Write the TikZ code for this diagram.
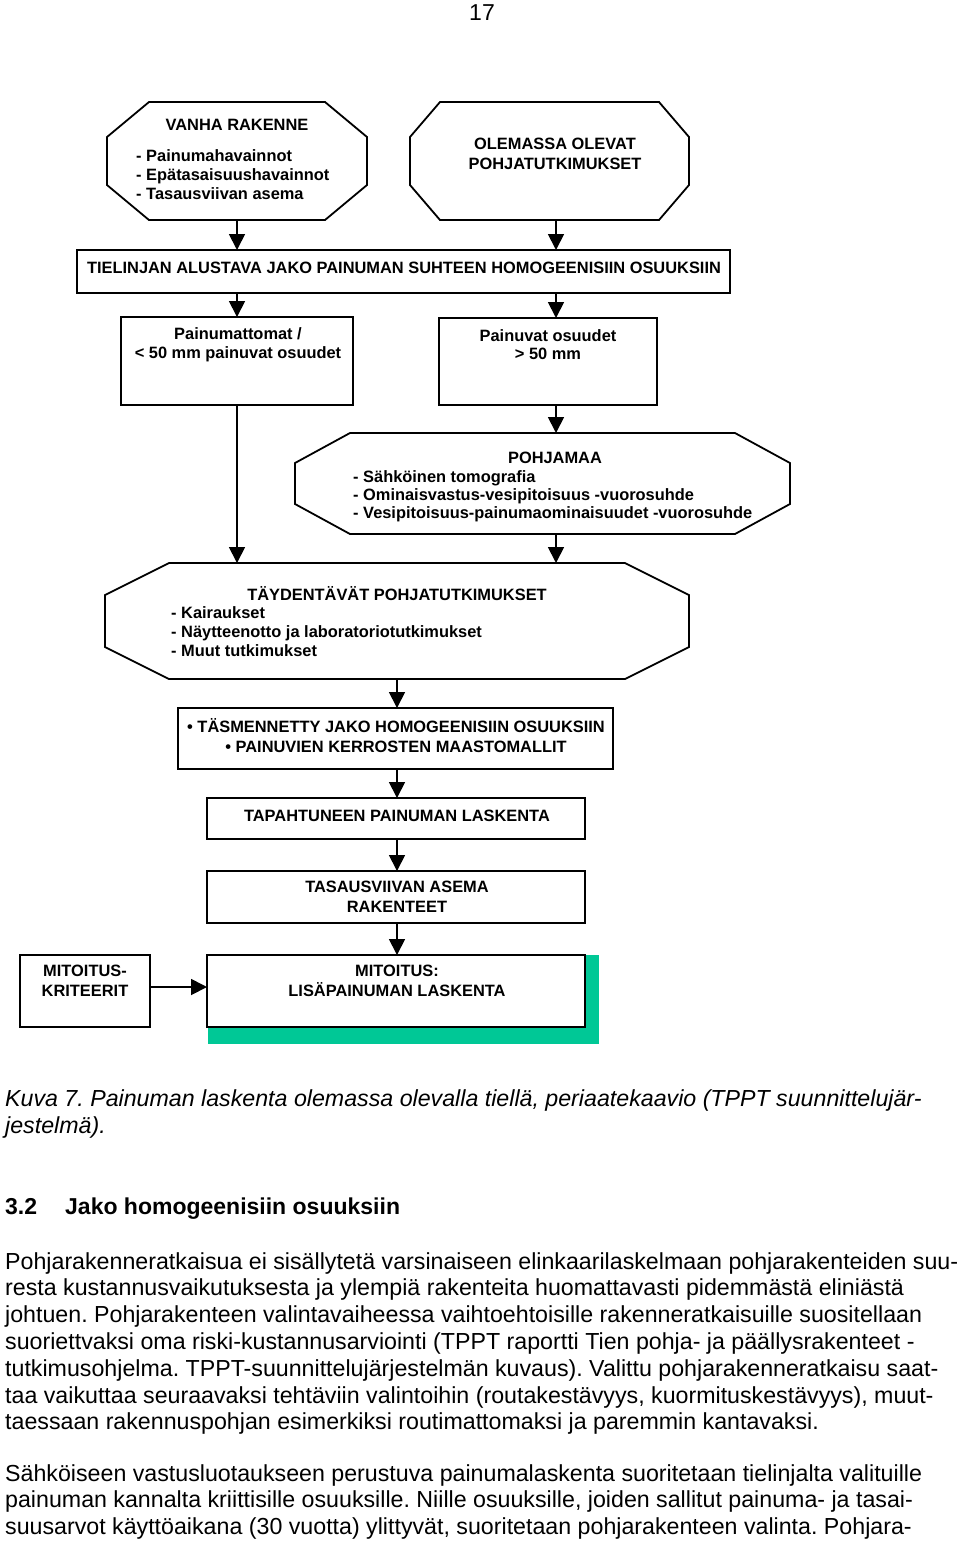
\documentclass[tikz,border=0pt]{standalone}
\usepackage{fontspec}
\setmainfont{Liberation Sans}
\usetikzlibrary{arrows.meta,calc}
\definecolor{shgreen}{RGB}{0,200,150}
\newcommand\drawocta[3]{%
  \draw[frame] ([xshift=#2pt]#1.north west) -- ([xshift=-#2pt]#1.north east)
    -- ([yshift=-#3pt]#1.north east) -- ([yshift=#3pt]#1.south east)
    -- ([xshift=-#2pt]#1.south east) -- ([xshift=#2pt]#1.south west)
    -- ([yshift=#3pt]#1.south west) -- ([yshift=-#3pt]#1.north west) -- cycle;}
\frenchspacing
\begin{document}
\frenchspacing
\begin{tikzpicture}[x=1pt,y=-1pt,
  frame/.style={draw=black,line width=1.8pt,fill=white},
  ghost/.style={draw=none,inner sep=0pt,outer sep=0pt},
  rbox/.style={draw=black,line width=1.8pt,fill=white,inner sep=0pt,outer sep=0pt},
  arr/.style={line width=1.8pt,-{Triangle[length=16pt,width=16pt]}},
  dt/.style={font=\fontsize{16.4}{19}\selectfont\bfseries,inner sep=0pt,anchor=base},
  dl/.style={font=\fontsize{16.4}{19}\selectfont\bfseries,inner sep=0pt,anchor=base west},
  bt/.style={font=\fontsize{23.2}{27}\selectfont,inner sep=0pt,anchor=base west},
  ct/.style={font=\fontsize{23.2}{27}\selectfont\itshape,inner sep=0pt,anchor=base west},
]
\useasboundingbox (0,0) rectangle (960,1543);

% page number
\node[font=\fontsize{23}{27}\selectfont,inner sep=0pt,anchor=base] (pagenum) at (482,20) {17};

% column coordinates
\coordinate (colL) at (237,0);
\coordinate (colR) at (556,0);
\coordinate (colC) at (397,0);
\coordinate (rowK) at (0,987);

% octagon frames
\node[ghost,minimum width=260pt,minimum height=118pt] (vanha) at (237,161) {};
\drawocta{vanha}{42}{35}
\node[ghost,minimum width=279pt,minimum height=118pt] (olemassa) at (549.5,161) {};
\drawocta{olemassa}{30}{35}
\node[ghost,minimum width=495pt,minimum height=101pt] (pohjamaa) at (542.5,483.5) {};
\drawocta{pohjamaa}{55}{30}
\node[ghost,minimum width=584pt,minimum height=116pt] (taydent) at (397,621) {};
\drawocta{taydent}{64}{32}

% rectangles
\node[rbox,minimum width=653pt,minimum height=43pt] (tielinjan) at (403.5,271.5) {};
\node[rbox,minimum width=232pt,minimum height=88pt] (painumatt) at (237,361) {};
\node[rbox,minimum width=218pt,minimum height=87pt] (painuvat) at (548,361.5) {};
\node[rbox,minimum width=435pt,minimum height=61pt] (tasmenn) at (395.5,738.5) {};
\node[rbox,minimum width=378pt,minimum height=41pt] (tapaht) at (396,818.5) {};
\node[rbox,minimum width=378pt,minimum height=52pt] (tasaus) at (396,897) {};
\node[fill=shgreen,draw=none,inner sep=0pt,outer sep=0pt,minimum width=391pt,minimum height=89pt] (shadow) at (403.5,999.5) {};
\node[rbox,minimum width=378pt,minimum height=72pt] (mitoitus) at (396,991) {};
\node[rbox,minimum width=130pt,minimum height=72pt] (kriteerit) at (85,991) {};

% texts in diagram
\node[dt] (tv1) at (237,130) {VANHA RAKENNE};
\node[dl] (tv2) at (136,161) {- Painumahavainnot};
\node[dl] (tv3) at (136,180) {- Epätasaisuushavainnot};
\node[dl] (tv4) at (136,199) {- Tasausviivan asema};
\node[dt] (to1) at (555,149) {OLEMASSA OLEVAT};
\node[dt] (to2) at (555,169) {POHJATUTKIMUKSET};
\node[dt] (tt1) at (404,273) {TIELINJAN ALUSTAVA JAKO PAINUMAN SUHTEEN HOMOGEENISIIN OSUUKSIIN};
\node[dt] (tpm1) at (238,339) {Painumattomat /};
\node[dt] (tpm2) at (238,358) {< 50 mm painuvat osuudet};
\node[dt] (tpv1) at (548,341) {Painuvat osuudet};
\node[dt] (tpv2) at (548,359) {> 50 mm};
\node[dt] (tp1) at (555,463) {POHJAMAA};
\node[dl] (tp2) at (353,482) {- Sähköinen tomografia};
\node[dl] (tp3) at (353,500) {- Ominaisvastus-vesipitoisuus -vuorosuhde};
\node[dl] (tp4) at (353,518) {- Vesipitoisuus-painumaominaisuudet -vuorosuhde};
\node[dt] (td1) at (397,600) {TÄYDENTÄVÄT POHJATUTKIMUKSET};
\node[dl] (td2) at (171,618) {- Kairaukset};
\node[dl] (td3) at (171,637) {- Näytteenotto ja laboratoriotutkimukset};
\node[dl] (td4) at (171,656) {- Muut tutkimukset};
\node[dt] (ts1) at (396,732) {\textbullet\ TÄSMENNETTY JAKO HOMOGEENISIIN OSUUKSIIN};
\node[dt] (ts2) at (396,752) {\textbullet\ PAINUVIEN KERROSTEN MAASTOMALLIT};
\node[dt] (ta1) at (397,821) {TAPAHTUNEEN PAINUMAN LASKENTA};
\node[dt] (tsv1) at (397,892) {TASAUSVIIVAN ASEMA};
\node[dt] (tsv2) at (397,912) {RAKENTEET};
\node[dt] (tm1) at (397,976) {MITOITUS:};
\node[dt] (tm2) at (397,996) {LISÄPAINUMAN LASKENTA};
\node[dt] (tk1) at (85,976) {MITOITUS-};
\node[dt] (tk2) at (85,996) {KRITEERIT};

% connectors
\draw[arr] (vanha.south -| colL) -- (tielinjan.north -| colL);
\draw[arr] (olemassa.south -| colR) -- (tielinjan.north -| colR);
\draw[arr] (tielinjan.south -| colL) -- (painumatt.north -| colL);
\draw[arr] (tielinjan.south -| colR) -- (painuvat.north -| colR);
\draw[arr] (painuvat.south -| colR) -- (pohjamaa.north -| colR);
\draw[arr] (painumatt.south -| colL) -- (taydent.north -| colL);
\draw[arr] (pohjamaa.south -| colR) -- (taydent.north -| colR);
\draw[arr] (taydent.south -| colC) -- (tasmenn.north -| colC);
\draw[arr] (tasmenn.south -| colC) -- (tapaht.north -| colC);
\draw[arr] (tapaht.south -| colC) -- (tasaus.north -| colC);
\draw[arr] (tasaus.south -| colC) -- (mitoitus.north -| colC);
\draw[arr] (kriteerit.east |- rowK) -- (mitoitus.west |- rowK);

% caption and body text
\node[ct] (cap1) at (5,1106) {Kuva 7. Painuman laskenta olemassa olevalla tiellä, periaatekaavio (TPPT suunnittelujär-};
\node[ct] (cap2) at (5,1133) {jestelmä).};
\node[bt,font=\fontsize{23}{27}\selectfont\bfseries] (h1) at (5,1214) {3.2};
\node[bt,font=\fontsize{23}{27}\selectfont\bfseries] (h2) at (65,1214) {Jako homogeenisiin osuuksiin};
\node[bt] (p1) at (5,1269) {Pohjarakenneratkaisua ei sisällytetä varsinaiseen elinkaarilaskelmaan pohjarakenteiden suu-};
\node[bt] (p2) at (5,1295.8) {resta kustannusvaikutuksesta ja ylempiä rakenteita huomattavasti pidemmästä eliniästä};
\node[bt] (p3) at (5,1322.6) {johtuen. Pohjarakenteen valintavaiheessa vaihtoehtoisille rakenneratkaisuille suositellaan};
\node[bt] (p4) at (5,1349.4) {suoriettvaksi oma riski-kustannusarviointi (TPPT raportti Tien pohja- ja päällysrakenteet -};
\node[bt] (p5) at (5,1376.2) {tutkimusohjelma. TPPT-suunnittelujärjestelmän kuvaus). Valittu pohjarakenneratkaisu saat-};
\node[bt] (p6) at (5,1403) {taa vaikuttaa seuraavaksi tehtäviin valintoihin (routakestävyys, kuormituskestävyys), muut-};
\node[bt] (p7) at (5,1429.8) {taessaan rakennuspohjan esimerkiksi routimattomaksi ja paremmin kantavaksi.};
\node[bt] (q1) at (5,1481) {Sähköiseen vastusluotaukseen perustuva painumalaskenta suoritetaan tielinjalta valituille};
\node[bt] (q2) at (5,1507.8) {painuman kannalta kriittisille osuuksille. Niille osuuksille, joiden sallitut painuma- ja tasai-};
\node[bt] (q3) at (5,1534.6) {suusarvot käyttöaikana (30 vuotta) ylittyvät, suoritetaan pohjarakenteen valinta. Pohjara-};
\end{tikzpicture}
\end{document}
